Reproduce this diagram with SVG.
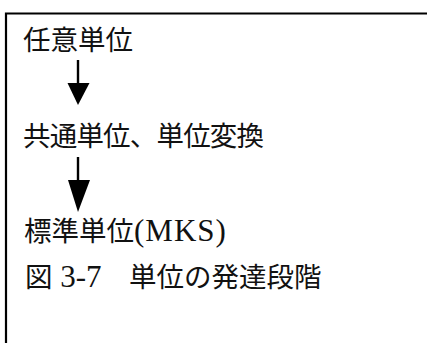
<svg xmlns="http://www.w3.org/2000/svg" width="427" height="343" viewBox="0 0 427 343">
  <style>
    .frame { fill: none; stroke: #000; stroke-width: 2.2; }
    .lbl { font-family: "Liberation Serif", "Noto Sans CJK JP", serif; font-size: 27.5px; fill: #111; }
    .lat { font-family: "Liberation Serif", serif; font-size: 31px; }
    .shaft { stroke: #000; stroke-width: 2.4; fill: none; }
    .head { fill: #000; stroke: none; }
  </style>
  <rect width="427" height="343" fill="#fff"/>
  <polyline class="frame" points="6,345 6,13.5 430,13.5"/>
  <g id="node-arbitrary">
    <text class="lbl" x="23" y="50">任意単位</text>
  </g>
  <g id="node-common">
    <text class="lbl" x="23" y="146" textLength="241" lengthAdjust="spacing">共通単位、単位変換</text>
  </g>
  <g id="node-standard">
    <text class="lbl" x="24" y="241">標準単位<tspan class="lat" letter-spacing="1">(MKS)</tspan></text>
  </g>
  <g id="caption">
    <text class="lbl" x="25" y="287">図<tspan class="lat" font-size="29"> 3-7</tspan>　単位の発達段階</text>
  </g>
  <g id="connectors">
    <line class="shaft" x1="78" y1="60" x2="78" y2="85"/>
    <polygon class="head" points="67.5,83 89.5,83 78,105"/>
    <line class="shaft" x1="78" y1="157" x2="78" y2="182"/>
    <polygon class="head" points="68,180 90,180 78,212"/>
  </g>
</svg>
